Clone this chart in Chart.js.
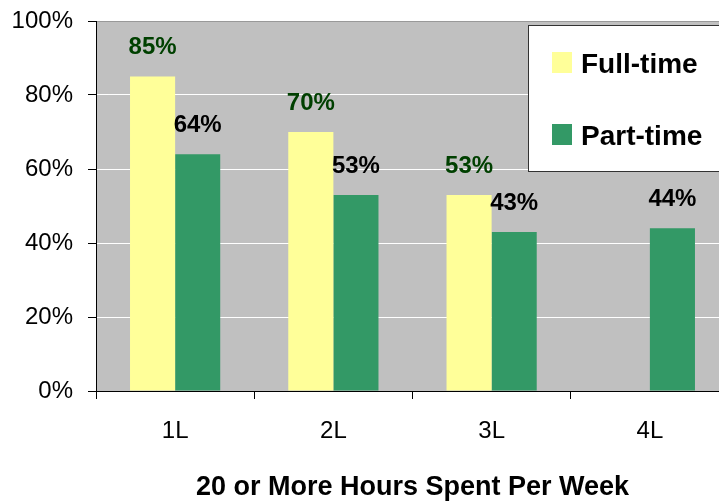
<!DOCTYPE html>
<html>
<head>
<meta charset="utf-8">
<script src="https://cdn.jsdelivr.net/npm/chart.js@4/dist/chart.umd.min.js"></script>
<style>
  html, body { margin: 0; padding: 0; background: #fff; overflow: hidden; }
  #wrap { width: 729px; height: 501px; }
</style>
</head>
<body>
<div id="wrap"><canvas id="hoursChart" width="729" height="501"></canvas></div>
<script>
// ─── Data ─────────────────────────────────────────────────────────
const CATEGORIES = ['1L', '2L', '3L', '4L'];
const FULL_TIME  = [85, 70, 53, null];
const PART_TIME  = [64, 53, 43, 44];
const Y_TICKS    = [0, 20, 40, 60, 80, 100];
const AXIS_TITLE = '20 or More Hours Spent Per Week';

const COLORS = {
    yellow:   '#FFFF99',
    green:    '#339966',
    plotBg:   '#C0C0C0',
    labelFT:  '#004000',
    labelPT:  '#000000',
};

const FONT = "Arial, 'Liberation Sans', sans-serif";
Chart.defaults.font.family = FONT;
Chart.defaults.color = '#000';

// gray plot area
const plotBackground = {
    id: 'plotBackground',
    beforeDraw(chart) {
        const { ctx, chartArea: a } = chart;
        ctx.save();
        ctx.fillStyle = COLORS.plotBg;
        ctx.fillRect(a.left, a.top, a.right - a.left, a.bottom - a.top);
        ctx.restore();
    }
};

// value labels above each bar
const valueLabels = {
    id: 'valueLabels',
    afterDatasetsDraw(chart) {
        const ctx = chart.ctx;
        ctx.save();
        ctx.font = 'bold 24px ' + FONT;
        ctx.textAlign = 'center';
        ctx.textBaseline = 'middle';
        chart.data.datasets.forEach((ds, i) => {
            const meta = chart.getDatasetMeta(i);
            ctx.fillStyle = ds.labelColor;
            meta.data.forEach((bar, j) => {
                const v = ds.data[j];
                if (v == null) return;
                ctx.fillText(v + '%', bar.x, bar.y - 29);
            });
        });
        ctx.restore();
    }
};

// boxed legend in the upper right of the plot
const boxLegend = {
    id: 'boxLegend',
    afterDraw(chart) {
        const ctx = chart.ctx;
        const a = chart.chartArea;
        const x0 = 528, y0 = 25, y1 = 171;
        ctx.save();
        ctx.fillStyle = '#fff';
        ctx.fillRect(x0, y0, a.right + 20 - x0, y1 - y0);
        ctx.strokeStyle = '#333';
        ctx.lineWidth = 1;
        ctx.strokeRect(x0 + 0.5, y0 + 0.5, a.right + 20 - x0, y1 - y0);
        ctx.font = 'bold 28px ' + FONT;
        ctx.textBaseline = 'alphabetic';
        ctx.textAlign = 'left';
        const rows = [73, 145];
        chart.data.datasets.forEach((ds, i) => {
            const base = rows[i];
            ctx.fillStyle = ds.backgroundColor;
            ctx.fillRect(552, base - 21, 20, 21);
            ctx.fillStyle = '#000';
            ctx.fillText(ds.label, 581, base);
        });
        ctx.restore();
    }
};

new Chart(document.getElementById('hoursChart'), {
    type: 'bar',
    data: {
        labels: CATEGORIES,
        datasets: [
            {
                label: 'Full-time',
                data: FULL_TIME,
                backgroundColor: COLORS.yellow,
                labelColor: COLORS.labelFT,
                borderWidth: 0,
                barPercentage: 1,
                categoryPercentage: 0.57
            },
            {
                label: 'Part-time',
                data: PART_TIME,
                backgroundColor: COLORS.green,
                labelColor: COLORS.labelPT,
                borderWidth: 0,
                barPercentage: 1,
                categoryPercentage: 0.57
            }
        ]
    },
    options: {
        responsive: false,
        animation: false,
        layout: { padding: { top: 21, right: 0, bottom: 0, left: 0 } },
        plugins: {
            legend: { display: false },
            tooltip: { enabled: false }
        },
        scales: {
            x: {
                offset: true,
                border: { display: true, color: '#000', width: 1 },
                grid: {
                    display: true,
                    offset: true,
                    drawOnChartArea: false,
                    tickLength: 8,
                    tickColor: '#000'
                },
                ticks: { color: '#000', padding: 18, font: { size: 24 }, maxRotation: 0 },
                title: {
                    display: true,
                    text: AXIS_TITLE,
                    color: '#000',
                    font: { size: 27, weight: 'bold', lineHeight: 1 },
                    padding: { top: 0, bottom: 0 }
                },
                afterFit(scale) {
                    scale.height = 110;
                    scale.paddingLeft = 0;
                    scale.paddingRight = 0;
                }
            },
            y: {
                min: 0,
                max: 100,
                afterBuildTicks(scale) { scale.ticks = Y_TICKS.map(v => ({ value: v })); },
                border: { display: true, color: '#000', width: 1 },
                grid: {
                    color: ctx => (ctx.tick && ctx.tick.value === 100 ? '#999' : '#fff'),
                    tickColor: '#000',
                    tickLength: 8,
                    lineWidth: 1
                },
                ticks: {
                    color: '#000',
                    padding: 15,
                    font: { size: 24 },
                    callback: v => v + '%'
                },
                afterFit(scale) {
                    scale.width = 96;
                    scale.paddingTop = 0;
                    scale.paddingBottom = 0;
                }
            }
        }
    },
    plugins: [plotBackground, valueLabels, boxLegend]
});
</script>
</body>
</html>
